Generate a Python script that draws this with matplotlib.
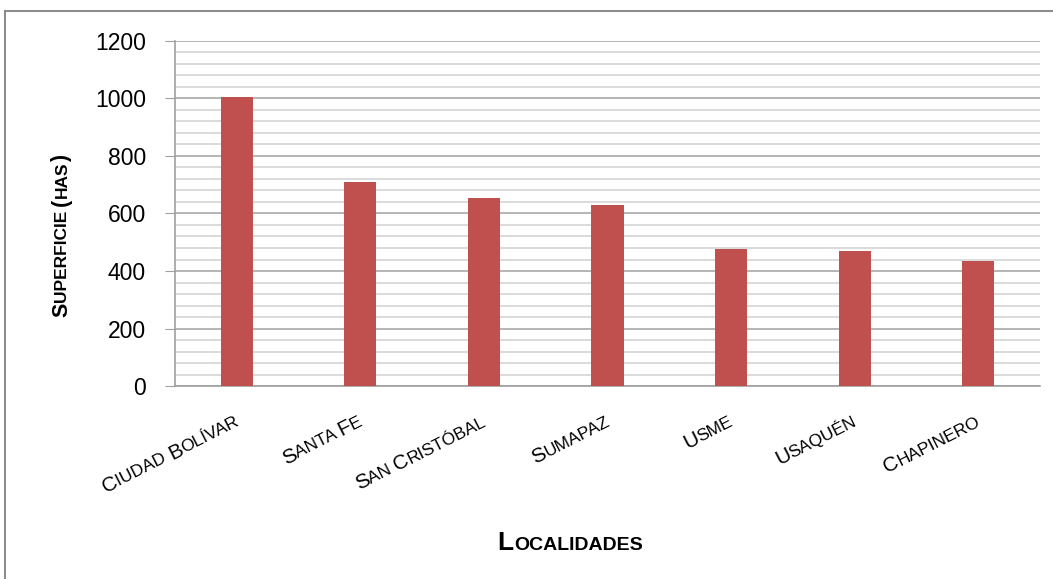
import numpy as np
import matplotlib
matplotlib.use("Agg")
import matplotlib.pyplot as plt
from matplotlib.font_manager import FontProperties
from matplotlib.textpath import TextToPath
from matplotlib.transforms import ScaledTranslation
from matplotlib.ticker import MultipleLocator

localidades = ["Ciudad Bolívar", "Santa Fe", "San Cristóbal", "Sumapaz",
               "Usme", "Usaquén", "Chapinero"]
superficie = [1005, 710, 655, 628, 478, 471, 436]
yticks = [0, 200, 400, 600, 800, 1000, 1200]

FONT = "Liberation Sans"
BAR = "#C0504D"
_t2p = TextToPath()


def adv(s, size, weight):
    # advance width in points, bracketed by "|" so side bearings cancel out
    fp = FontProperties(family=FONT, size=size, weight=weight)
    w1 = _t2p.get_text_width_height_descent("|" + s + "|", fp, ismath=False)[0]
    w0 = _t2p.get_text_width_height_descent("||", fp, ismath=False)[0]
    return w1 - w0


def runs(text, big, small):
    # small caps: capitals/punctuation at big size, lower case shown as small capitals
    out = []
    for ch in text:
        sz = small if (ch.islower() or ch == " ") else big
        if out and out[-1][1] == sz:
            out[-1][0] += ch.upper()
        else:
            out.append([ch.upper(), sz])
    return out


def smallcaps(ax, x, y, text, big, small, angle, align, trans, off=(0, 0), weight="normal"):
    rr = runs(text, big, small)
    ww = [adv(t, sz, weight) for t, sz in rr]
    total = sum(ww)
    pos = {"left": 0.0, "center": -total / 2, "right": -total}[align]
    ca, sa = np.cos(np.radians(angle)), np.sin(np.radians(angle))
    for (t, sz), w in zip(rr, ww):
        dx = (off[0] + pos * ca) / 72
        dy = (off[1] + pos * sa) / 72
        tr = trans + ScaledTranslation(dx, dy, ax.figure.dpi_scale_trans)
        ax.text(x, y, t, transform=tr, fontsize=sz, family=FONT, weight=weight,
                rotation=angle, rotation_mode="anchor", ha="left", va="baseline",
                color="black", clip_on=False)
        pos += w


fig = plt.figure(figsize=(10.53, 5.79), dpi=100)
ax = fig.add_axes([175 / 1053, 1 - 386 / 579, 865 / 1053, 345 / 579])

x = np.arange(len(localidades))
ax.bar(x, superficie, width=0.26, color=BAR, zorder=3)
ax.set_xlim(-0.5, len(localidades) - 0.5)
ax.set_ylim(0, 1200)
ax.set_yticks(yticks)
ax.yaxis.set_minor_locator(MultipleLocator(40))
ax.grid(which="minor", axis="y", color="#d4d4d4", lw=1.2, zorder=0)
ax.grid(which="major", axis="y", color="#a8a8a8", lw=1.2, zorder=1)
ax.set_xticks([])
ax.tick_params(axis="y", which="major", length=7, color="#a0a0a0", pad=14,
               labelsize=16.5)
ax.tick_params(axis="y", which="minor", length=0)
for lbl in ax.get_yticklabels():
    lbl.set_family(FONT)
for s in ["top", "right"]:
    ax.spines[s].set_visible(False)
for s in ["left", "bottom"]:
    ax.spines[s].set_color("#a0a0a0")
    ax.spines[s].set_linewidth(1.2)

# rotated category labels, top-right corner on the tick
ang = 27
big, small = 15, 12.5
capH = 0.729 * small
for i, name in enumerate(localidades):
    off = (capH * np.sin(np.radians(ang)) - 2, -20 - capH * np.cos(np.radians(ang)))
    smallcaps(ax, i, 0, name, big, small, ang, "right", ax.get_xaxis_transform(), off)

# axis titles
smallcaps(ax, 570 / 1053, 1 - 550 / 579, "Localidades", 19, 14, 0, "center",
          fig.transFigure, weight="bold")
smallcaps(ax, 67 / 1053, 1 - 236 / 579, "Superficie (has)", 15.5, 12.5, 90, "center",
          fig.transFigure, weight="bold")

# chart frame
fig.add_artist(plt.Line2D([5 / 1053, 5 / 1053], [0, 1 - 11 / 579], color="#8c8c8c",
                          lw=1.5, transform=fig.transFigure))
fig.add_artist(plt.Line2D([5 / 1053, 1], [1 - 11 / 579, 1 - 11 / 579], color="#8c8c8c",
                          lw=1.5, transform=fig.transFigure))

fig.savefig("out.png", dpi=100)
